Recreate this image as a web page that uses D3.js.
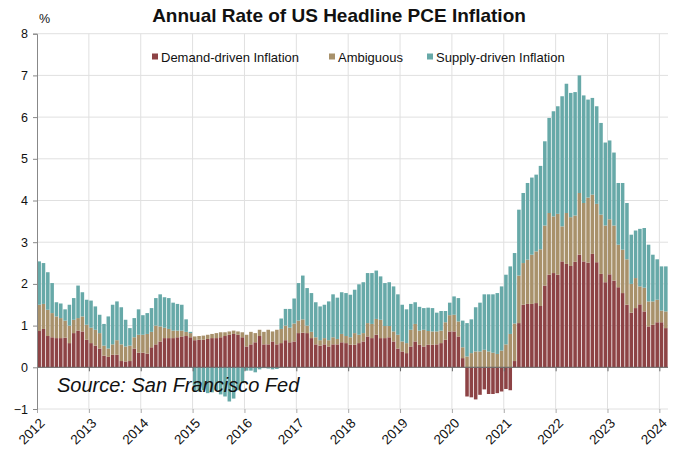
<!DOCTYPE html>
<html>
<head>
<meta charset="utf-8">
<script src="https://cdn.jsdelivr.net/npm/d3@7"></script>
<style>
  body { margin: 0; background: #fff; }
  svg { font-family: "Liberation Sans", Arial, sans-serif; }
</style>
</head>
<body>
<svg id="chart"></svg>
<script>
// year tick labels on the x axis
var years = [2012, 2013, 2014, 2015, 2016, 2017, 2018, 2019, 2020, 2021, 2022, 2023, 2024];

// series, one value per month from Jan 2012 to Feb 2024 (percentage points)
var demand = [
  .87,.92,.75,.72,.70,.70,.71,.58,.82,.88,.86,.66,   // 2012
  .58,.52,.45,.28,.25,.30,.30,.15,.14,.15,.45,.35,   // 2013
  .35,.33,.48,.55,.62,.70,.70,.70,.72,.74,.75,.72,   // 2014
  .65,.66,.66,.68,.70,.70,.72,.75,.78,.80,.78,.72,   // 2015
  .50,.55,.60,.75,.55,.55,.62,.55,.58,.65,.60,.62,   // 2016
  .82,.83,.82,.70,.55,.52,.55,.50,.55,.55,.60,.58,   // 2017
  .54,.54,.58,.62,.74,.70,.78,.70,.70,.72,.62,.45,   // 2018
  .38,.34,.50,.62,.54,.50,.54,.54,.55,.58,.66,.86,   // 2019
  .86,.74,.22,-.70,-.72,-.77,-.66,-.53,-.64,-.64,-.62,-.58,   // 2020
  -.52,-.55,.15,1.06,1.50,1.52,1.52,1.54,1.47,1.96,2.22,2.26, // 2021
  2.22,2.54,2.48,2.43,2.53,2.70,2.54,2.51,2.72,2.52,2.24,2.04, // 2022
  2.23,2.08,1.92,1.78,1.50,1.31,1.42,1.51,1.34,.98,1.02,1.08,  // 2023
  1.08,.94                                                   // 2024
];
var ambiguous = [
  .63,.60,.63,.58,.52,.48,.41,.42,.32,.30,.36,.36,
  .37,.38,.37,.24,.20,.25,.35,.40,.36,.37,.27,.43,
  .43,.47,.37,.45,.36,.25,.22,.18,.16,.14,.10,.10,
  .09,.09,.10,.10,.10,.12,.12,.09,.08,.08,.08,.12,
  .28,.30,.22,.15,.30,.35,.24,.35,.34,.35,.35,.43,
  .30,.32,.18,.15,.17,.13,.15,.15,.17,.13,.20,.17,
  .18,.28,.20,.20,.32,.34,.38,.44,.29,.27,.24,.33,
  .24,.24,.40,.42,.34,.40,.33,.32,.31,.30,.42,.39,
  .40,.36,.26,.26,.34,.38,.38,.42,.38,.35,.32,.40,
  .55,.80,.90,1.14,1.00,1.06,1.18,1.24,1.36,1.44,1.48,1.36,
  1.46,.84,1.22,1.17,1.11,1.48,1.40,1.56,1.42,1.40,1.42,1.36,
  1.32,1.32,1.02,1.04,1.09,.69,.72,.43,.57,.60,.56,.54,
  .28,.40
];
var supply = [
  1.04,.98,.90,.72,.34,.35,.27,.50,.52,.78,.58,.60,
  .65,.56,.44,.52,.77,.95,.93,.89,.64,.42,.46,.61,
  .47,.50,.57,.66,.77,.73,.74,.67,.64,.62,.30,.03,
  -.58,-.58,-.55,-.62,-.60,-.55,-.65,-.70,-.82,-.75,-.55,-.38,
  -.08,-.08,-.12,-.05,-.02,-.03,-.05,-.04,.25,.40,.45,.60,
  .90,1.05,.90,.93,.84,.81,.80,.93,1.03,.99,1.00,1.03,
  1.02,1.04,1.21,1.22,1.20,1.22,1.16,1.04,1.03,1.05,1.08,.97,
  .88,.81,.62,.52,.57,.52,.56,.56,.45,.47,.27,.30,
  .44,.56,.64,.80,.81,1.06,1.17,1.33,1.37,1.40,1.46,1.54,
  1.67,1.62,1.69,1.58,1.68,1.84,1.85,1.84,2.00,2.02,2.28,2.52,
  2.58,3.12,3.10,2.98,2.96,2.82,2.58,2.35,2.32,2.34,2.20,1.99,
  1.89,1.75,1.48,1.60,1.35,1.18,1.14,1.38,1.43,1.36,1.12,.97,
  1.06,1.08
];

var seriesNames = ["Demand-driven Inflation", "Ambiguous", "Supply-driven Inflation"];
var yTicks = [-1, 0, 1, 2, 3, 4, 5, 6, 7, 8];

// month categories
var months = [];
years.forEach(function(yr){
  for (var m = 1; m <= 12; m++) months.push(yr + "-" + m);
});
months = months.slice(0, demand.length);

var rows = months.map(function(m, i){
  return {month: m, demand: demand[i], ambiguous: ambiguous[i], supply: supply[i]};
});

//Graph settings
var width = 676, height = 450;
var plot = {left: 37, right: 668, top: 33.7, bottom: 409};
var colors = {demand: "#8d4345", ambiguous: "#a8916b", supply: "#67a9a8"};

var svg = d3.select("#chart").attr("width", width).attr("height", height);

var pad = 0.18;
var x = d3.scaleBand()
  .domain(months)
  .range([plot.left, plot.right])
  .paddingInner(pad)
  .paddingOuter(pad / 2);

var yearStart = function(yr){ return x(yr + "-1") - x.step() * pad / 2; };
var xYear = d3.scaleLinear()
  .domain([years[0], years[years.length - 1]])
  .range([yearStart(years[0]), yearStart(years[years.length - 1])]);

var y = d3.scaleLinear().domain([-1, 8]).range([plot.bottom, plot.top]);

// gridlines
svg.append("g").selectAll("line.h")
  .data(yTicks)
  .enter().append("line")
  .attr("x1", plot.left).attr("x2", plot.right)
  .attr("y1", function(d){ return y(d); }).attr("y2", function(d){ return y(d); })
  .style("stroke", "#e0e0e0").style("stroke-width", 1);

svg.append("g").selectAll("line.v")
  .data(years.slice(1))
  .enter().append("line")
  .attr("x1", function(d){ return xYear(d); }).attr("x2", function(d){ return xYear(d); })
  .attr("y1", plot.top).attr("y2", plot.bottom)
  .style("stroke", "#e0e0e0").style("stroke-width", 1);

// stacked bars
var stack = d3.stack()
  .keys(["demand", "ambiguous", "supply"])
  .offset(d3.stackOffsetDiverging);
var layers = stack(rows);

svg.append("g").selectAll("g")
  .data(layers)
  .enter().append("g")
  .attr("fill", function(d){ return colors[d.key]; })
  .selectAll("rect")
  .data(function(d){ return d; })
  .enter().append("rect")
  .attr("x", function(d){ return x(d.data.month); })
  .attr("width", x.bandwidth())
  .attr("y", function(d){ return y(Math.max(d[0], d[1])); })
  .attr("height", function(d){ return Math.abs(y(d[0]) - y(d[1])); });

// zero line with year ticks
svg.append("line")
  .attr("x1", plot.left).attr("x2", plot.right)
  .attr("y1", y(0)).attr("y2", y(0))
  .style("stroke", "#666").style("stroke-width", 1);

var zeroAxis = svg.append("g")
  .attr("transform", "translate(0," + y(0) + ")")
  .call(d3.axisBottom(xYear).tickValues(years).tickSize(4).tickFormat(""));
zeroAxis.select(".domain").remove();
zeroAxis.selectAll("line").style("stroke", "#666");

// bottom axis with rotated year labels
var xAxis = svg.append("g")
  .attr("transform", "translate(0," + plot.bottom + ")")
  .call(d3.axisBottom(xYear).tickValues(years).tickSize(4).tickFormat(d3.format("d")));
xAxis.select(".domain").remove();
xAxis.selectAll("line").style("stroke", "#aaa");
xAxis.selectAll("text")
  .attr("x", 0).attr("y", 0).attr("dy", 0)
  .attr("text-anchor", "end")
  .attr("transform", "translate(8,15) rotate(-45)")
  .style("font-size", "13.5px")
  .style("fill", "#111")
  .style("font-family", "'Liberation Sans', Arial, sans-serif");

// y axis
var yAxis = svg.append("g")
  .attr("transform", "translate(" + plot.left + ",0)")
  .call(d3.axisLeft(y).tickValues(yTicks).tickSize(4).tickPadding(5).tickFormat(d3.format("d")));
yAxis.select(".domain").style("stroke", "#888");
yAxis.selectAll("line").style("stroke", "#888");
yAxis.selectAll("text")
  .style("font-size", "12.5px")
  .style("fill", "#111")
  .style("font-family", "'Liberation Sans', Arial, sans-serif");

// title and labels
svg.append("text")
  .attr("x", 339).attr("y", 22)
  .attr("text-anchor", "middle")
  .style("font-size", "19px").style("font-weight", "bold").style("fill", "#111")
  .text("Annual Rate of US Headline PCE Inflation");

svg.append("text")
  .attr("x", 39).attr("y", 23)
  .style("font-size", "12.5px").style("fill", "#111")
  .text("%");

svg.append("text")
  .attr("x", 57).attr("y", 392)
  .style("font-size", "20px").style("font-style", "italic").style("fill", "#111")
  .text("Source: San Francisco Fed");

// legend
var legendX = [152, 329, 427];
var legend = svg.append("g").selectAll("g")
  .data(["demand", "ambiguous", "supply"])
  .enter().append("g")
  .attr("transform", function(d, i){ return "translate(" + legendX[i] + ",0)"; });
legend.append("rect")
  .attr("x", 0).attr("y", 53.5).attr("width", 6).attr("height", 6)
  .attr("fill", function(d){ return colors[d]; });
legend.append("text")
  .attr("x", 9).attr("y", 61.5)
  .style("font-size", "13px").style("fill", "#111")
  .text(function(d, i){ return seriesNames[i]; });
</script>
</body>
</html>
